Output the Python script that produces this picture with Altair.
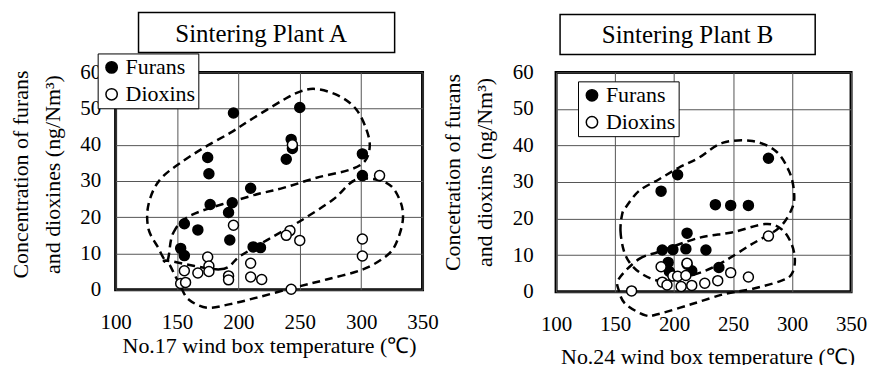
import altair as alt
import pandas as pd

SERIF = "Liberation Serif"
series_names = ["Furans", "Dioxins"]
x_ticks = [100, 150, 200, 250, 300, 350]
y_ticks = [0, 10, 20, 30, 40, 50, 60]

# ---------------- Sintering Plant A (No.17 wind box) ----------------
title_A = "Sintering Plant A"
xtitle_A = "No.17 wind box temperature (℃)"
ytitle_A = ["Concentration of furans", "and dioxines (ng/Nm³)"]
furans_A_T = [196, 250, 243, 244, 239, 301, 301, 175, 176, 210, 177, 195, 192, 156, 167, 193, 212, 218, 153, 156]
furans_A_C = [48.8, 50.3, 41.5, 39, 36, 37.5, 31.5, 36.5, 32, 28, 23.5, 24, 21.3, 18.2, 16.5, 13.7, 11.8, 11.6, 11.4, 9.4]
dioxins_A_T = [315, 244, 196, 242, 239, 250, 301, 301, 175, 176, 176, 156, 167, 210, 210, 219, 192, 192, 153, 157, 243]
dioxins_A_C = [31.5, 40, 17.8, 16.3, 15, 13.6, 14, 9.3, 9, 6.5, 5, 5.2, 4.6, 7.3, 3.5, 2.8, 3.8, 2.7, 1.7, 2, 0.1]
# dashed enclosing loops (data units)
loopF_A_T = [142, 147, 162.5, 209.6, 236.6, 263.7, 290.7, 303, 307, 304.3, 296.2, 282.6, 263.7, 250.2, 236.6, 212.3, 193.3, 171.4, 152.8, 139, 130.8, 126, 127, 134]
loopF_A_C = [8, 15.7, 20.7, 25.8, 28.1, 30.9, 33.1, 35.5, 39.6, 44.2, 49.7, 53.4, 55.4, 54.7, 52.4, 47.4, 43.3, 39.1, 35, 31.4, 27.5, 22, 16.5, 12]
loopD_A_T = [142, 185, 201.5, 224.4, 250.2, 277.2, 296.2, 320.5, 331.3, 334, 328.6, 320.5, 301.5, 271.8, 244.7, 215, 193.3, 174.4, 159.5, 152.8, 144.6]
loopD_A_C = [8, 5.6, 9.3, 13.9, 18.9, 24.9, 30.4, 29.5, 24.9, 19.4, 12.9, 9.3, 5.6, 2.8, 0.5, -2.2, -4, -5, -2.7, 1, 6.5]

# ---------------- Sintering Plant B (No.24 wind box) ----------------
title_B = "Sintering Plant B"
xtitle_B = "No.24 wind box temperature (℃)"
ytitle_B = ["Concetration of furans", "and dioxins (ng/Nm³)"]
furans_B_T = [280, 203, 189, 235, 248, 263, 211, 190, 199, 210, 227, 195, 196, 211, 215, 238]
furans_B_C = [36.5, 32, 27.5, 23.8, 23.6, 23.6, 16, 11.4, 11.5, 11.7, 11.4, 8, 5.5, 7.5, 5.7, 6.6]
dioxins_B_T = [164, 189, 190, 194, 199, 203, 211, 210, 206, 215, 226, 237, 248, 263, 280]
dioxins_B_C = [0.2, 6.8, 2.6, 1.8, 4.3, 4.2, 7.8, 4.4, 1.4, 1.7, 2.3, 3.0, 5.2, 4.0, 15.2]
loopF_B_T = [156, 154.6, 157.4, 163.1, 172.9, 187, 203.9, 226.4, 243.6, 266.4, 289.2, 300.2, 301.6, 297.4, 286.1, 266.4, 241, 220.8, 203.9, 187, 170.1, 158.9]
loopF_B_C = [21.2, 16.6, 11.2, 7.6, 4.8, 3, 3.5, 5.7, 8.5, 13.1, 17.5, 23, 27.5, 33, 38.5, 41.2, 40.7, 36.6, 33.9, 30.7, 27.5, 23]
loopD_B_T = [153.2, 170.1, 187, 220.8, 248.9, 277.1, 291.1, 299.6, 302.4, 299.6, 291.1, 265.8, 243.3, 215.1, 187, 175.8, 158.9, 153.2]
loopD_B_C = [3.5, 8.9, 10.9, 14.7, 16.2, 18.5, 17.1, 13, 8.5, 4.8, 3, 0.7, -0.6, -3.4, -6.1, -6.5, -3.4, 0.3]


def build_panel(ft, fc, dt, dc, loops, title_text, xtitle, ytitle, w, h,
                box, title_xy, leg_xy, ylab_pad, xlab_pad, ytitle_xy, xtitle_xy):
    pts = pd.DataFrame({
        "T": ft + dt,
        "C": fc + dc,
        "series": [series_names[0]] * len(ft) + [series_names[1]] * len(dt),
    })
    rows = []
    for name, (lt, lc) in loops.items():
        for i, (t, c) in enumerate(zip(lt, lc)):
            rows.append({"loop": name, "i": i, "T": t, "C": c})
    loop_df = pd.DataFrame(rows)

    xs = alt.Scale(domain=[100, 350], nice=False, zero=False)
    ys = alt.Scale(domain=[0, 60], nice=False, zero=False)
    xaxis = alt.Axis(values=x_ticks, title=xtitle, grid=True, labelFontSize=21,
                     labelPadding=xlab_pad, labelBaseline="middle", labelFlush=False,
                     labelOverlap=False, titleFontSize=22, titleX=xtitle_xy[0],
                     titleY=xtitle_xy[1], titleBaseline="middle", titleAlign="center")
    yaxis = alt.Axis(values=y_ticks, title=ytitle, grid=True, labelFontSize=21,
                     labelPadding=ylab_pad, labelOverlap=False, labelFlush=False,
                     titleFontSize=22, titleX=ytitle_xy[0], titleY=ytitle_xy[1],
                     titleAngle=270, titleAlign="center", titleBaseline="middle",
                     titleLineHeight=32)
    xenc = alt.X("T:Q", scale=xs, axis=xaxis)
    yenc = alt.Y("C:Q", scale=ys, axis=yaxis)

    lines = alt.Chart(loop_df).mark_line(
        interpolate="cardinal-closed", strokeDash=[8, 5], strokeWidth=2.5, color="black"
    ).encode(x=xenc, y=yenc, detail="loop:N", order="i:Q")

    points = alt.Chart(pts).mark_point(
        filled=True, size=100, stroke="black", strokeWidth=1.5, opacity=1, shape="circle"
    ).encode(
        x=xenc, y=yenc,
        fill=alt.Fill("series:N", scale=alt.Scale(domain=series_names, range=["black", "white"]),
                      legend=alt.Legend(title=None, orient="none", legendX=leg_xy[0], legendY=leg_xy[1],
                                        labelFont=SERIF, labelFontSize=22, labelColor="black",
                                        symbolType="circle", symbolSize=130,
                                        symbolStrokeColor="black", symbolStrokeWidth=1.5,
                                        symbolOpacity=1, strokeColor="black", fillColor="white",
                                        padding=3, rowPadding=5, labelOffset=3)),
    )

    tdf = pd.DataFrame({"label": [title_text]})
    tbox = alt.Chart(tdf).mark_rect(fill="white", stroke="black", strokeWidth=1.5).encode(
        x=alt.value(box[0]), x2=alt.value(box[1]), y=alt.value(box[2]), y2=alt.value(box[3]))
    ttxt = alt.Chart(tdf).mark_text(font=SERIF, fontSize=25, align="center", baseline="middle",
                                    color="black").encode(
        x=alt.value(title_xy[0]), y=alt.value(title_xy[1]), text="label:N")

    return alt.layer(lines, points, tbox, ttxt).properties(width=w, height=h)


panel_A = build_panel(
    furans_A_T, furans_A_C, dioxins_A_T, dioxins_A_C,
    {"F": (loopF_A_T, loopF_A_C), "D": (loopD_A_T, loopD_A_C)},
    title_A, xtitle_A, ytitle_A, 308, 218,
    box=(23, 280, -60, -20), title_xy=(146, -38), leg_xy=(-18, -19),
    ylab_pad=15, xlab_pad=33, ytitle_xy=(-95, 102), xtitle_xy=(154, 56))

panel_B = build_panel(
    furans_B_T, furans_B_C, dioxins_B_T, dioxins_B_C,
    {"F": (loopF_B_T, loopF_B_C), "D": (loopD_B_T, loopD_B_C)},
    title_B, xtitle_B, ytitle_B, 296, 220,
    box=(4, 260, -58, -18), title_xy=(132, -37), leg_xy=(22, 9),
    ylab_pad=23, xlab_pad=33, ytitle_xy=(-104, 100), xtitle_xy=(152, 65))

chart = alt.hconcat(panel_A, panel_B, spacing=134, bounds="flush").resolve_scale(
    fill="independent").resolve_legend(fill="independent").configure_view(
    stroke="black", strokeWidth=3).configure_axis(
    gridColor="#555555", gridWidth=1, gridOpacity=1, domain=False, ticks=False, tickSize=0,
    labelFont=SERIF, titleFont=SERIF, labelColor="black", titleColor="black",
    titleFontWeight="normal").properties(
    padding={"left": 8, "top": 9, "right": 0, "bottom": 0})

chart.save("out.html", embed_options={"renderer": "svg", "actions": False})
